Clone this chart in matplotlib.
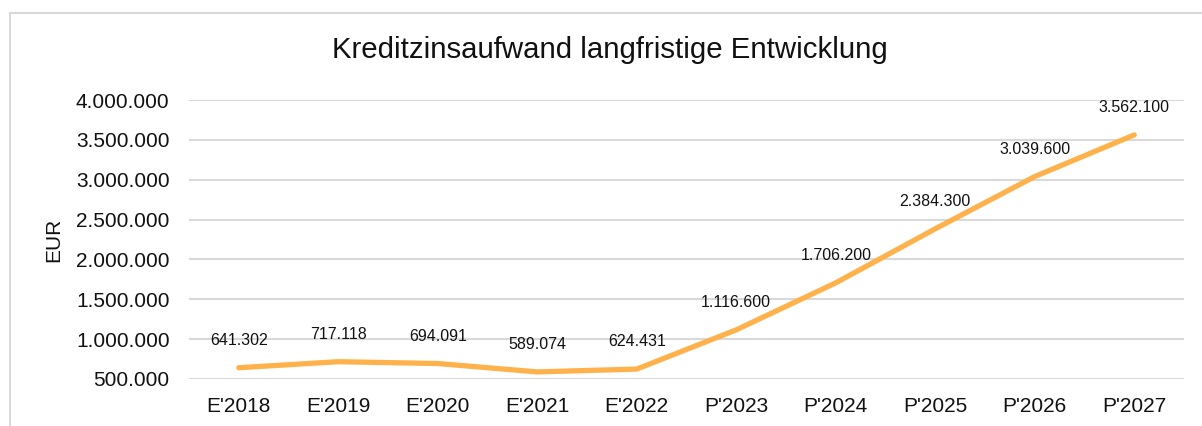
import numpy as np
import matplotlib.pyplot as plt
from matplotlib.patches import Rectangle

# data
years = ["E'2018", "E'2019", "E'2020", "E'2021", "E'2022",
         "P'2023", "P'2024", "P'2025", "P'2026", "P'2027"]
zinsaufwand = [641302, 717118, 694091, 589074, 624431,
               1116600, 1706200, 2384300, 3039600, 3562100]
y_ticks = [500000, 1000000, 1500000, 2000000, 2500000,
           3000000, 3500000, 4000000]


def de_format(v):
    # German thousands separator
    return f"{v:,.0f}".replace(",", ".")


plt.rcParams['font.family'] = ['Liberation Sans', 'DejaVu Sans']

fig = plt.figure(figsize=(12.02, 4.26), dpi=100)
ax = fig.add_axes([189 / 1202, 1 - 379 / 426, 995 / 1202, 279 / 426])

# chart frame (cut off at right and bottom like the screenshot)
fig.patches.append(Rectangle((10 / 1202, -0.1), 1.2, 1 - 13 / 426 + 0.1,
                             transform=fig.transFigure, fill=False,
                             edgecolor='#D9D9D9', linewidth=1.5,
                             clip_on=False))

x = np.arange(len(years))
ax.plot(x, zinsaufwand, color='#FFB24C', linewidth=3.8,
        solid_capstyle='round', solid_joinstyle='round', zorder=3)

for xi, v in zip(x, zinsaufwand):
    ax.annotate(de_format(v), (xi, v), xytext=(0, 19.5),
                textcoords='offset points', ha='center', va='center',
                fontsize=11.5, color='#111111')

ax.set_xlim(-0.5, len(years) - 0.5)
ax.set_ylim(500000, 4000000)
ax.set_xticks(x)
ax.set_xticklabels(years)
ax.set_yticks(y_ticks)
ax.set_yticklabels([de_format(t) for t in y_ticks])
ax.tick_params(axis='both', length=0, labelsize=15, colors='#111111')
ax.tick_params(axis='x', pad=13)
ax.tick_params(axis='y', pad=14)

ax.grid(axis='y', color='#D9D9D9', linewidth=1.5)
ax.set_axisbelow(True)
for s in ax.spines.values():
    s.set_visible(False)

ax.set_ylabel('EUR', fontsize=15, color='#111111')
ax.yaxis.set_label_coords(-0.1266, 0.5)

fig.text(610 / 1202, 1 - 50 / 426, 'Kreditzinsaufwand langfristige Entwicklung',
         ha='center', va='center', fontsize=21.2, color='#111111')

fig.savefig('out.png', dpi=100)
